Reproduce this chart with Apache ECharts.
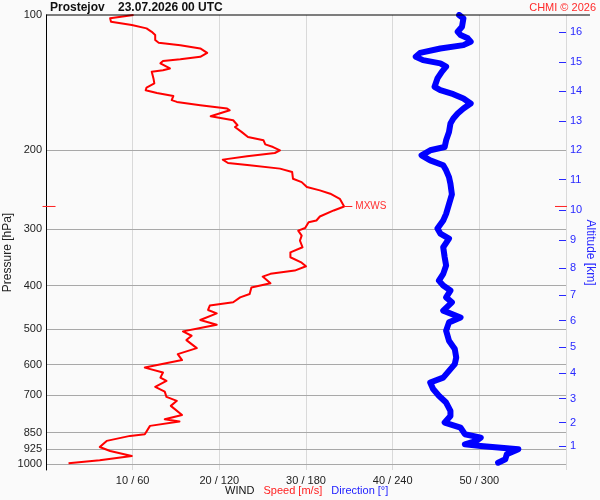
<!DOCTYPE html>
<html>
<head>
    <meta charset="UTF-8">
    <title>Prostejov wind profile</title>
    <style>
        html, body { margin: 0; padding: 0; background: #fafafa; }
        #container { width: 600px; height: 500px; }
    </style>
</head>
<body>
<div id="container"></div>
<script src="https://cdn.jsdelivr.net/npm/echarts@6/dist/echarts.min.js"></script>
<script type="text/javascript">
    // pressure levels drawn on the left axis [hPa]
    var pressureTicks = [100, 200, 300, 400, 500, 600, 700, 850, 925, 1000];
    // altitude ticks on the right axis and the pressure they sit at
    var altitudeKm = [1, 2, 3, 4, 5, 6, 7, 8, 9, 10, 11, 12, 13, 14, 15, 16];
    var altitudeP = [909.5, 806.8, 713.4, 626.1, 549.0, 478.6, 419.5, 365.2, 316.3, 272.1, 232.5, 200.0, 172.1, 147.5, 127.1, 109.3];

    // wind speed [m/s] vs pressure [hPa]
    var speedP = [100, 101.7, 103.5, 105.3, 107.1, 109.0, 110.8, 113.7, 115.3, 116.7, 118.7, 121.4, 123.9, 125.5, 126.6, 128.1,
        131.5, 132.7, 133.8, 138.4, 142.0, 145.0, 147.0, 149.1, 151.4, 154.7, 156.1, 158.8, 161.5, 162.9, 168.0, 171.5,
        175.9, 177.5, 182.2, 186.8, 190.0, 194.0, 196.7, 200.0, 202.8, 206.3, 209.8, 213.5, 216.0, 219.7, 223.5, 231.4,
        235.4, 241.5, 245.6, 249.8, 256.4, 266.7, 272.2, 280.8, 286.6, 289.1, 297.9, 301.8, 309.6, 317.6, 328.7, 337.3,
        346.0, 355.7, 362.3, 370.4, 376.7, 382.0, 395.4, 404.1, 417.5, 424.9, 435.8, 443.2, 453.2, 461.3, 477.1, 488.7,
        497.1, 505.8, 517.2, 528.9, 551.0, 568.3, 585.9, 608.9, 624.6, 640.9, 652.0, 671.9, 688.5, 707.3, 722.0, 740.8,
        776.0, 793.2, 802.9, 820.8, 856.7, 864.0, 886.4, 914.4, 933.6, 957.6, 978.9, 994.2];
    var speedV = [10.1, 7.4, 7.5, 9.9, 11.6, 12.2, 12.6, 12.6, 13.0, 15.5, 17.8, 18.6, 17.8, 15.5, 13.5, 13.2,
        14.3, 13.5, 12.2, 12.4, 12.5, 11.6, 11.5, 12.8, 14.7, 14.5, 15.1, 17.8, 20.9, 21.2, 19.0, 21.6,
        22.1, 21.8, 22.6, 23.3, 25.1, 25.3, 26.2, 27.0, 26.4, 23.2, 20.4, 21.0, 23.5, 27.0, 28.4, 28.5,
        29.5, 30.1, 31.6, 32.8, 33.9, 34.4, 33.2, 31.6, 31.2, 30.3, 29.9, 29.1, 29.5, 29.3, 29.6, 28.2,
        28.2, 29.5, 30.0, 28.7, 25.9, 25.0, 25.9, 23.7, 23.5, 22.4, 21.6, 18.9, 18.7, 19.7, 17.8, 19.7,
        17.8, 15.8, 16.8, 16.2, 17.4, 15.2, 15.7, 11.4, 13.5, 13.2, 13.9, 12.6, 13.7, 13.9, 15.1, 14.4,
        15.7, 13.7, 15.4, 12.0, 11.4, 9.7, 7.0, 6.2, 7.4, 9.9, 6.2, 2.6];

    // wind direction [deg] vs pressure [hPa]
    var dirP = [100, 101.7, 106.2, 109.0, 110.8, 112.7, 114.7, 116.7, 118.7, 121.4, 123.9, 126.0, 128.1, 130.3, 133.8, 138.4,
        144.5, 147.0, 150.0, 153.4, 157.4, 161.5, 165.7, 170.0, 174.4, 182.2, 190.0, 196.7, 200.0, 205.2, 210.6, 216.0,
        221.6, 229.4, 237.4, 250.7, 263.6, 277.0, 286.6, 298.7, 306.5, 314.4, 328.7, 346.0, 361.0, 376.7, 390.0, 400.0,
        410.4, 424.9, 435.8, 454.8, 470.9, 483.0, 504.0, 530.8, 553.8, 578.2, 598.3, 619.2, 640.9, 657.2, 679.4, 703.6,
        728.3, 760.0, 780.0, 806.9, 827.9, 856.7, 871.5, 886.4, 902.3, 909.6, 925.3, 949.0, 974.1, 991.1];
    var dirV = [286, 289, 288, 285, 287, 292, 294, 289, 273, 259, 256, 261, 273, 277, 274, 271,
        269, 273, 282, 289, 294, 289, 285, 282, 280, 279, 277, 276, 266, 260, 266, 275,
        277, 279, 280, 281, 279, 277, 275, 271, 273, 279, 275, 276, 277, 275, 272, 275,
        280, 277, 281, 275, 287, 279, 277, 279, 283, 284, 283, 279, 275, 266, 268, 272,
        277, 280, 280, 276, 287, 290, 301, 298, 290, 301, 327, 319, 318, 313];

    var FONT = 'Liberation Sans, Arial, sans-serif';

    var speedData = speedP.map(function (p, i) { return [speedV[i], p]; });
    // direction shares the same x axis: 360 deg = 60 m/s
    var dirData = dirP.map(function (p, i) { return [dirV[i] / 6, p]; });

    // maximum wind
    var maxIdx = 0;
    speedV.forEach(function (v, i) { if (v > speedV[maxIdx]) maxIdx = i; });
    var maxS = speedV[maxIdx], maxP = speedP[maxIdx];

    var myChart = echarts.init(document.getElementById('container'));
    var option = {
        backgroundColor: '#fafafa',
        animation: false,
        title: [{
            text: 'Prostejov    23.07.2026 00 UTC',
            left: 50, top: 2, padding: 0,
            textStyle: { fontFamily: FONT, fontSize: 12, fontWeight: 'bold', color: '#111' }
        }, {
            text: 'CHMI © 2026',
            right: 4, top: 2, padding: 0,
            textStyle: { fontFamily: FONT, fontSize: 11, fontWeight: 'normal', color: '#ff2a2a' }
        }, {
            text: '{a|WIND}   {b|Speed [m/s]}   {c|Direction [°]}',
            left: 225, top: 485, padding: 0,
            textStyle: {
                fontFamily: FONT, fontSize: 11, fontWeight: 'normal',
                rich: {
                    a: { color: '#111', fontFamily: FONT, fontSize: 11 },
                    b: { color: '#ff2020', fontFamily: FONT, fontSize: 11 },
                    c: { color: '#2020ff', fontFamily: FONT, fontSize: 11 }
                }
            }
        }],
        grid: { left: 46, right: 34, top: 15, bottom: 30, containLabel: false, outerBoundsMode: 'none' },
        xAxis: [{
            type: 'value', min: 0, max: 60, interval: 10, position: 'bottom',
            axisLine: { show: false, onZero: false },
            axisTick: { show: false },
            axisLabel: {
                margin: 5, color: '#222', fontFamily: FONT, fontSize: 11,
                formatter: function (v) { return (v <= 0 || v >= 60) ? '' : v + ' / ' + v * 6; }
            },
            splitLine: { show: true, showMinLine: false, lineStyle: { color: '#d9d9d9', width: 1 } }
        }],
        yAxis: [{
            type: 'log', logBase: 10, min: 100, max: 1029, inverse: true, position: 'left', z: 3,
            name: 'Pressure [hPa]', nameLocation: 'middle', nameRotate: 90, nameGap: 32, nameMoveOverlap: false,
            nameTextStyle: { fontFamily: FONT, fontSize: 12, color: '#222', padding: [0, 20, 0, 0] },
            axisLine: { show: true, onZero: false, lineStyle: { color: '#000', width: 1 } },
            axisTick: { show: false, customValues: pressureTicks },
            axisLabel: {
                customValues: pressureTicks, margin: 4, color: '#222', fontFamily: FONT, fontSize: 11,
                formatter: function (v) { return String(Math.round(v)); }
            },
            splitLine: { show: true, showMinLine: false, lineStyle: { color: '#a8a8a8', width: 1 } }
        }, {
            type: 'log', logBase: 10, min: 100, max: 1029, inverse: true, position: 'right',
            name: 'Altitude [km]', nameLocation: 'middle', nameRotate: -90, nameGap: 18, nameMoveOverlap: false,
            nameTextStyle: { fontFamily: FONT, fontSize: 12, color: '#2828ff', padding: [0, 0, 0, 20] },
            axisLine: { show: false, onZero: false },
            axisTick: { show: true, inside: true, length: 7, customValues: altitudeP, lineStyle: { color: '#2828ff', width: 1 } },
            axisLabel: {
                customValues: altitudeP, margin: 4, color: '#2828ff', fontFamily: FONT, fontSize: 11,
                formatter: function (v) {
                    for (var i = 0; i < altitudeP.length; i++) {
                        if (Math.abs(altitudeP[i] - v) < 0.05) return String(altitudeKm[i]);
                    }
                    return '';
                }
            },
            splitLine: { show: false }
        }],
        series: [{
            name: 'Direction',
            type: 'line',
            xAxisIndex: 0, yAxisIndex: 0,
            data: dirData,
            symbol: 'none',
            z: 3,
            lineStyle: { color: '#0000ff', width: 6, cap: 'round', join: 'round' }
        }, {
            name: 'Speed',
            type: 'line',
            xAxisIndex: 0, yAxisIndex: 0,
            data: speedData,
            symbol: 'none',
            clip: false,
            z: 4,
            lineStyle: { color: '#ff0000', width: 2, join: 'round' },
            markLine: {
                silent: true,
                symbol: ['none', 'none'],
                lineStyle: { color: '#ff2020', width: 1, type: 'solid' },
                label: { show: false },
                data: [
                    // MXWS marker at the wind maximum
                    [{ coord: [maxS, maxP] }, {
                        coord: [maxS + 0.95, maxP],
                        label: { show: true, position: 'end', formatter: 'MXWS', color: '#ff3030', fontFamily: FONT, fontSize: 10, distance: 3 }
                    }]
                ]
            },
            markPoint: {
                silent: true,
                symbol: 'rect',
                label: { show: false },
                data: [
                    // frame line along 100 hPa, running out past the right axis
                    { coord: [31.38, pressureTicks[0]], symbolSize: [544, 1], itemStyle: { color: '#000' } },
                    // MXWS level marks on both axes
                    { coord: [0.35, maxP], symbolSize: [13, 1], itemStyle: { color: '#ff2020' } },
                    { coord: [59.42, maxP], symbolSize: [12, 1], itemStyle: { color: '#ff2020' } }
                ]
            }
        }]
    };
    myChart.setOption(option);
</script>
</body>
</html>
